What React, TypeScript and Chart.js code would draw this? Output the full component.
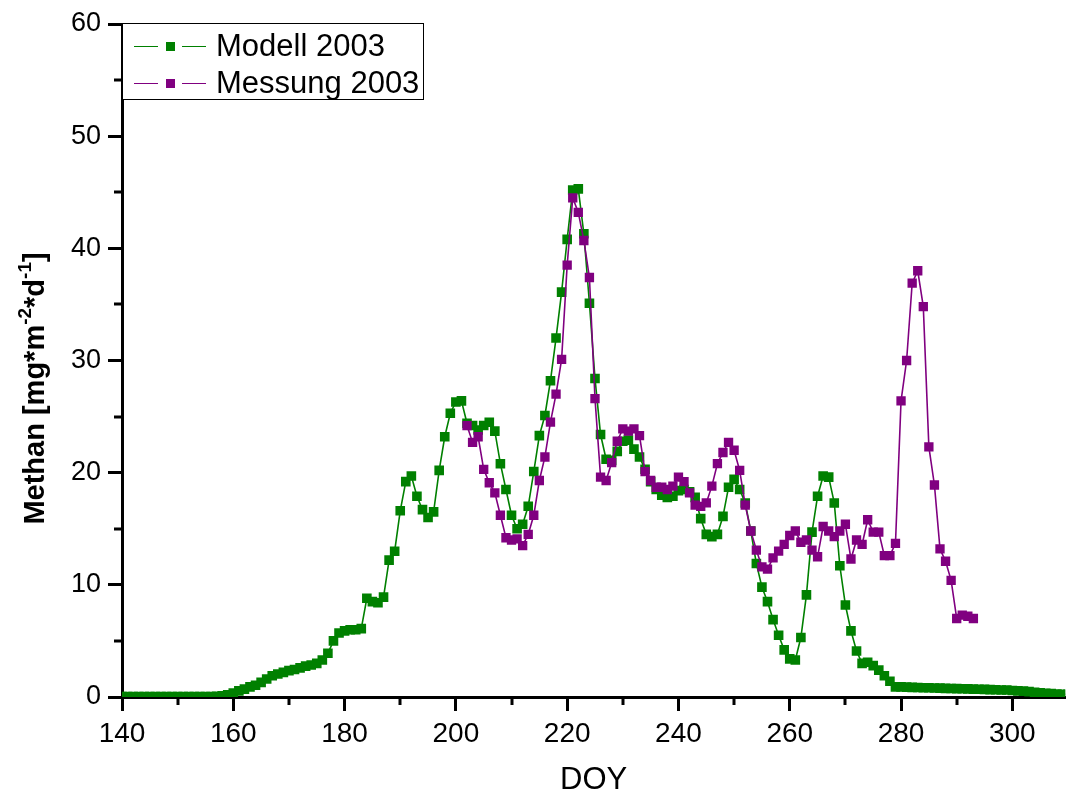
import React, { useEffect, useRef } from "react";
import { Chart, registerables } from "chart.js";

Chart.register(...registerables);

// ---- data ----
const modelStartDOY = 140;
const modelValues: number[] = [
  0.05, 0.05, 0.05, 0.05, 0.05, 0.05, 0.05, 0.05, 0.05, 0.05, // 140-149
  0.05, 0.05, 0.05, 0.05, 0.05, 0.05, 0.05, 0.06, 0.1, 0.2, // 150-159
  0.35, 0.55, 0.7, 0.9, 1.05, 1.3, 1.6, 1.9, 2.05, 2.2, // 160-169
  2.35, 2.45, 2.6, 2.75, 2.85, 3.0, 3.3, 3.9, 5.0, 5.7, // 170-179
  5.9, 6.0, 6.0, 6.1, 8.8, 8.5, 8.4, 8.9, 12.2, 13.0, // 180-189
  16.6, 19.2, 19.7, 17.9, 16.7, 16.0, 16.5, 20.2, 23.2, 25.3, // 190-199
  26.3, 26.4, 24.4, 24.2, 23.8, 24.2, 24.5, 23.7, 20.8, 18.5, // 200-209
  16.2, 15.0, 15.4, 17.0, 20.1, 23.3, 25.1, 28.2, 32.0, 36.1, // 210-219
  40.8, 45.2, 45.3, 41.3, 35.1, 28.4, 23.4, 21.2, 21.1, 21.9, // 220-229
  22.8, 22.9, 22.1, 21.4, 20.3, 19.2, 18.5, 18.0, 17.8, 17.9, // 230-239
  18.4, 18.5, 18.3, 17.8, 15.9, 14.5, 14.3, 14.5, 16.1, 18.7, // 240-249
  19.4, 18.5, 17.3, 14.8, 11.9, 9.8, 8.5, 6.9, 5.5, 4.2, // 250-259
  3.4, 3.3, 5.3, 9.1, 14.7, 17.9, 19.7, 19.6, 17.3, 11.7, // 260-269
  8.2, 5.9, 4.1, 3.0, 3.1, 2.8, 2.4, 1.9, 1.4, 0.9, // 270-279
  0.9, 0.88, 0.86, 0.85, 0.83, 0.82, 0.8, 0.79, 0.77, 0.76, // 280-289
  0.75, 0.73, 0.72, 0.7, 0.69, 0.68, 0.66, 0.65, 0.63, 0.62, // 290-299
  0.58, 0.55, 0.52, 0.48, 0.42, 0.37, 0.33, 0.3, 0.27, 0.25, // 300-309
  0.23, // 310
];

const measStartDOY = 202;
const measValues: number[] = [
  24.2, 22.7, 23.2, 20.3, 19.1, 18.2, 16.2, 14.2, // 202-209
  14.0, 14.1, 13.5, 14.5, 16.2, 19.3, 21.4, 24.5, 27.0, 30.1, // 210-219
  38.5, 44.5, 43.2, 40.7, 37.4, 26.6, 19.6, 19.3, 20.9, 22.8, // 220-229
  23.9, 23.7, 23.9, 23.3, 20.1, 19.3, 18.7, 18.7, 18.5, 18.8, // 230-239
  19.6, 19.2, 18.2, 17.1, 17.0, 17.3, 18.8, 20.8, 21.8, 22.7, // 240-249
  22.0, 20.2, 17.1, 14.8, 13.1, 11.6, 11.4, 12.4, 13.0, 13.6, // 250-259
  14.4, 14.8, 13.8, 14.0, 13.1, 12.5, 15.2, 14.8, 14.3, 14.8, // 260-269
  15.4, 12.3, 14.0, 13.6, 15.8, 14.7, 14.7, 12.6, 12.6, 13.7, // 270-279
  26.4, 30.0, 36.9, 38.0, 34.8, 22.3, 18.9, 13.2, 12.1, 10.4, // 280-289
  7.0, 7.3, 7.2, 7.0, // 290-293
];

const xTickValues = [140, 160, 180, 200, 220, 240, 260, 280, 300];
const xMinorTicks = [150, 170, 190, 210, 230, 250, 270, 290];
const yTickValues = [0, 10, 20, 30, 40, 50, 60];
const yMinorTicks = [5, 15, 25, 35, 45, 55];

const seriesNames = ["Modell 2003", "Messung 2003"];
const seriesColors = ["#008000", "#800080"];

const FONT = "'Liberation Sans', Arial, sans-serif";

const minorTickPlugin = {
  id: "minorTicks",
  afterDraw(chart: any) {
    const ctx = chart.ctx;
    const xs = chart.scales.x;
    const ys = chart.scales.y;
    const ca = chart.chartArea;
    ctx.save();
    ctx.strokeStyle = "#000";
    ctx.lineWidth = 3;
    ctx.beginPath();
    xMinorTicks.forEach((v) => {
      const px = Math.round(xs.getPixelForValue(v));
      ctx.moveTo(px, ca.bottom);
      ctx.lineTo(px, ca.bottom + 8);
    });
    yMinorTicks.forEach((v) => {
      const py = Math.round(ys.getPixelForValue(v));
      ctx.moveTo(ca.left - 8, py);
      ctx.lineTo(ca.left, py);
    });
    ctx.stroke();
    ctx.restore();
  },
};

const yTitlePlugin = {
  id: "yTitle",
  afterDraw(chart: any) {
    const ctx = chart.ctx;
    const ca = chart.chartArea;
    const big = `bold 29px ${FONT}`;
    const small = `bold 19px ${FONT}`;
    const parts: { t: string; sup: boolean }[] = [
      { t: "Methan [mg*m", sup: false },
      { t: "-2", sup: true },
      { t: "*d", sup: false },
      { t: "-1", sup: true },
      { t: "]", sup: false },
    ];
    ctx.save();
    let total = 0;
    const widths = parts.map((p) => {
      ctx.font = p.sup ? small : big;
      const w = ctx.measureText(p.t).width;
      total += w;
      return w;
    });
    const cx = 36;
    const cy = (ca.top + ca.bottom) / 2 + 28;
    ctx.translate(cx, cy);
    ctx.rotate(-Math.PI / 2);
    ctx.fillStyle = "#000";
    ctx.textBaseline = "middle";
    ctx.textAlign = "left";
    let x = -total / 2;
    parts.forEach((p, i) => {
      ctx.font = p.sup ? small : big;
      ctx.fillText(p.t, x, p.sup ? -10 : 0);
      x += widths[i];
    });
    ctx.restore();
  },
};

function App() {
  const canvasRef = useRef<HTMLCanvasElement | null>(null);

  useEffect(() => {
    if (!canvasRef.current) return;
    const modelData = modelValues.map((v, i) => ({ x: modelStartDOY + i, y: v }));
    const measData = measValues.map((v, i) => ({ x: measStartDOY + i, y: v }));
    const chart = new Chart(canvasRef.current, {
      type: "line",
      data: {
        datasets: [
          {
            label: seriesNames[0],
            data: modelData,
            borderColor: seriesColors[0],
            backgroundColor: seriesColors[0],
            borderWidth: 1.6,
            pointStyle: "rect",
            pointRadius: 6.8,
            pointBorderWidth: 0,
            tension: 0,
            order: 2,
          },
          {
            label: seriesNames[1],
            data: measData,
            borderColor: seriesColors[1],
            backgroundColor: seriesColors[1],
            borderWidth: 1.6,
            pointStyle: "rect",
            pointRadius: 6.6,
            pointBorderWidth: 0,
            tension: 0,
            order: 1,
          },
        ],
      },
      options: {
        responsive: false,
        animation: false,
        devicePixelRatio: 1,
        layout: { padding: { top: 24, right: 0, left: 0, bottom: 0 } },
        plugins: {
          legend: { display: false },
          tooltip: { enabled: false },
        },
        scales: {
          x: {
            type: "linear",
            min: 140,
            max: 309.5,
            afterFit: (s: any) => {
              s.height = 99;
            },
            afterBuildTicks: (s: any) => {
              s.ticks = xTickValues.map((v) => ({ value: v }));
            },
            border: { display: true, color: "#000", width: 3 },
            grid: {
              display: true,
              drawOnChartArea: false,
              drawTicks: true,
              tickLength: 14,
              tickWidth: 3,
              tickColor: "#000",
            },
            ticks: {
              color: "#000",
              font: { family: FONT, size: 28 },
              padding: 6,
              maxRotation: 0,
              autoSkip: false,
            },
            title: {
              display: true,
              text: "DOY",
              color: "#000",
              font: { family: FONT, size: 31, lineHeight: 1 },
              padding: { top: 0, bottom: 0 },
            },
          },
          y: {
            type: "linear",
            min: 0,
            max: 60,
            afterFit: (s: any) => {
              s.width = 122;
            },
            afterBuildTicks: (s: any) => {
              s.ticks = yTickValues.map((v) => ({ value: v }));
            },
            border: { display: true, color: "#000", width: 3 },
            grid: {
              display: true,
              drawOnChartArea: false,
              drawTicks: true,
              tickLength: 14,
              tickWidth: 3,
              tickColor: "#000",
            },
            ticks: {
              color: "#000",
              font: { family: FONT, size: 27 },
              padding: 7,
            },
          },
        },
      },
      plugins: [minorTickPlugin, yTitlePlugin],
    });
    return () => chart.destroy();
  }, []);

  const legendRow = (i: number) => (
    <div
      key={i}
      style={{
        position: "absolute",
        left: 0,
        top: i === 0 ? 4 : 41,
        height: 36,
        display: "flex",
        alignItems: "center",
      }}
    >
      <div style={{ width: 11 }} />
      <div style={{ width: 24, height: 0, borderTop: `1.6px solid ${seriesColors[i]}` }} />
      <div style={{ width: 8 }} />
      <div style={{ width: 9, height: 9, background: seriesColors[i] }} />
      <div style={{ width: 7 }} />
      <div style={{ width: 24, height: 0, borderTop: `1.6px solid ${seriesColors[i]}` }} />
      <div style={{ width: 10 }} />
      <span style={{ fontFamily: FONT, fontSize: 31, color: "#000", lineHeight: "36px" }}>
        {seriesNames[i]}
      </span>
    </div>
  );

  return (
    <div style={{ position: "absolute", left: 0, top: 0, width: 1072, height: 796, background: "#fff" }}>
      <canvas
        ref={canvasRef}
        width={1072}
        height={796}
        style={{ position: "absolute", left: 0, top: 0, width: 1072, height: 796 }}
      />
      <div
        style={{
          position: "absolute",
          left: 122,
          top: 23,
          width: 302,
          height: 77,
          border: "1.5px solid #000",
          background: "#fff",
          boxSizing: "border-box",
        }}
      >
        {legendRow(0)}
        {legendRow(1)}
      </div>
    </div>
  );
}

export default App;
